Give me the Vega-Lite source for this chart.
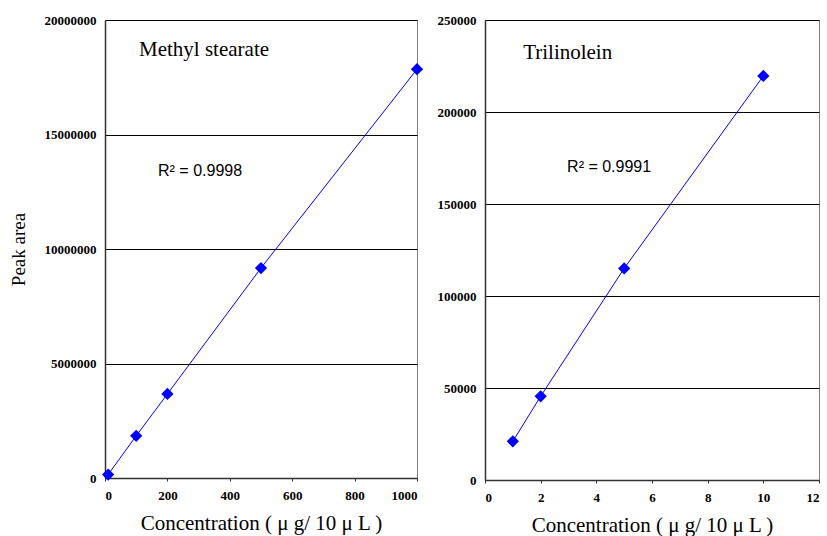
{
  "$schema": "https://vega.github.io/schema/vega-lite/v6.json",
  "padding": {"top": 13, "left": 8, "right": 0, "bottom": 0},
  "background": "white",
  "spacing": 12,
  "config": {
    "view": {"stroke": "#808080", "strokeWidth": 1},
    "axis": {
      "labelFont": "Liberation Serif", "labelFontWeight": "bold", "labelFontSize": 13, "labelColor": "#000",
      "titleFont": "Liberation Serif", "titleFontWeight": "normal", "titleFontSize": 21, "titleColor": "#000",
      "domainColor": "#333", "domainWidth": 1.5, "tickColor": "#333", "tickSize": 3,
      "gridColor": "#000", "gridWidth": 1, "gridOpacity": 1
    }
  },
  "datasets": {
    "methyl": [
      {"conc": 10, "area": 150000},
      {"conc": 100, "area": 1840000},
      {"conc": 200, "area": 3670000},
      {"conc": 500, "area": 9170000},
      {"conc": 1000, "area": 17850000}
    ],
    "trilinolein": [
      {"conc": 1, "area": 21000},
      {"conc": 2, "area": 45500},
      {"conc": 5, "area": 115000},
      {"conc": 10, "area": 219600}
    ],
    "methylText": [
      {"x": 109, "y": 18680000, "label": "Methyl stearate", "kind": "name"},
      {"x": 170, "y": 13420000, "label": "R² = 0.9998", "kind": "r2"}
    ],
    "triText": [
      {"x": 1.37, "y": 232000, "label": "Trilinolein", "kind": "name"},
      {"x": 2.95, "y": 170300, "label": "R² = 0.9991", "kind": "r2"}
    ]
  },
  "hconcat": [
    {
      "width": 312,
      "height": 458,
      "layer": [
        {
          "data": {"name": "methyl"},
          "mark": {"type": "line", "color": "#0000FF", "strokeWidth": 1},
          "encoding": {
            "x": {"field": "conc", "type": "quantitative", "scale": {"domain": [0, 1000], "nice": false},
              "axis": {"values": [0, 200, 400, 600, 800, 1000], "format": "d", "grid": false, "title": "Concentration ( μ g/ 10 μ L )", "titlePadding": 10, "labelPadding": 8}},
            "y": {"field": "area", "type": "quantitative", "scale": {"domain": [0, 20000000], "nice": false},
              "axis": {"values": [0, 5000000, 10000000, 15000000, 20000000], "format": "d", "title": "Peak area", "titleFontSize": 19, "titlePadding": 16, "labelPadding": 9, "ticks": false}}
          }
        },
        {
          "data": {"name": "methyl"},
          "mark": {"type": "point", "shape": "diamond", "filled": true, "color": "#0000FF", "opacity": 1, "size": 150},
          "encoding": {
            "x": {"field": "conc", "type": "quantitative"},
            "y": {"field": "area", "type": "quantitative"}
          }
        },
        {
          "data": {"name": "methylText"},
          "transform": [{"filter": "datum.kind === 'name'"}],
          "mark": {"type": "text", "align": "left", "baseline": "middle", "font": "Liberation Serif", "fontSize": 21, "color": "#000"},
          "encoding": {
            "x": {"field": "x", "type": "quantitative"},
            "y": {"field": "y", "type": "quantitative"},
            "text": {"field": "label"}
          }
        },
        {
          "data": {"name": "methylText"},
          "transform": [{"filter": "datum.kind === 'r2'"}],
          "mark": {"type": "text", "align": "left", "baseline": "middle", "font": "Liberation Sans", "fontSize": 16, "color": "#000"},
          "encoding": {
            "x": {"field": "x", "type": "quantitative"},
            "y": {"field": "y", "type": "quantitative"},
            "text": {"field": "label"}
          }
        }
      ]
    },
    {
      "width": 334,
      "height": 460,
      "layer": [
        {
          "data": {"name": "trilinolein"},
          "mark": {"type": "line", "color": "#0000FF", "strokeWidth": 1},
          "encoding": {
            "x": {"field": "conc", "type": "quantitative", "scale": {"domain": [0, 12], "nice": false},
              "axis": {"values": [0, 2, 4, 6, 8, 10, 12], "format": "d", "grid": false, "title": "Concentration ( μ g/ 10 μ L )", "titlePadding": 10, "labelPadding": 8}},
            "y": {"field": "area", "type": "quantitative", "scale": {"domain": [0, 250000], "nice": false},
              "axis": {"values": [0, 50000, 100000, 150000, 200000, 250000], "format": "d", "title": null, "labelPadding": 9, "ticks": false}}
          }
        },
        {
          "data": {"name": "trilinolein"},
          "mark": {"type": "point", "shape": "diamond", "filled": true, "color": "#0000FF", "opacity": 1, "size": 150},
          "encoding": {
            "x": {"field": "conc", "type": "quantitative"},
            "y": {"field": "area", "type": "quantitative"}
          }
        },
        {
          "data": {"name": "triText"},
          "transform": [{"filter": "datum.kind === 'name'"}],
          "mark": {"type": "text", "align": "left", "baseline": "middle", "font": "Liberation Serif", "fontSize": 21, "color": "#000"},
          "encoding": {
            "x": {"field": "x", "type": "quantitative"},
            "y": {"field": "y", "type": "quantitative"},
            "text": {"field": "label"}
          }
        },
        {
          "data": {"name": "triText"},
          "transform": [{"filter": "datum.kind === 'r2'"}],
          "mark": {"type": "text", "align": "left", "baseline": "middle", "font": "Liberation Sans", "fontSize": 16, "color": "#000"},
          "encoding": {
            "x": {"field": "x", "type": "quantitative"},
            "y": {"field": "y", "type": "quantitative"},
            "text": {"field": "label"}
          }
        }
      ]
    }
  ]
}
